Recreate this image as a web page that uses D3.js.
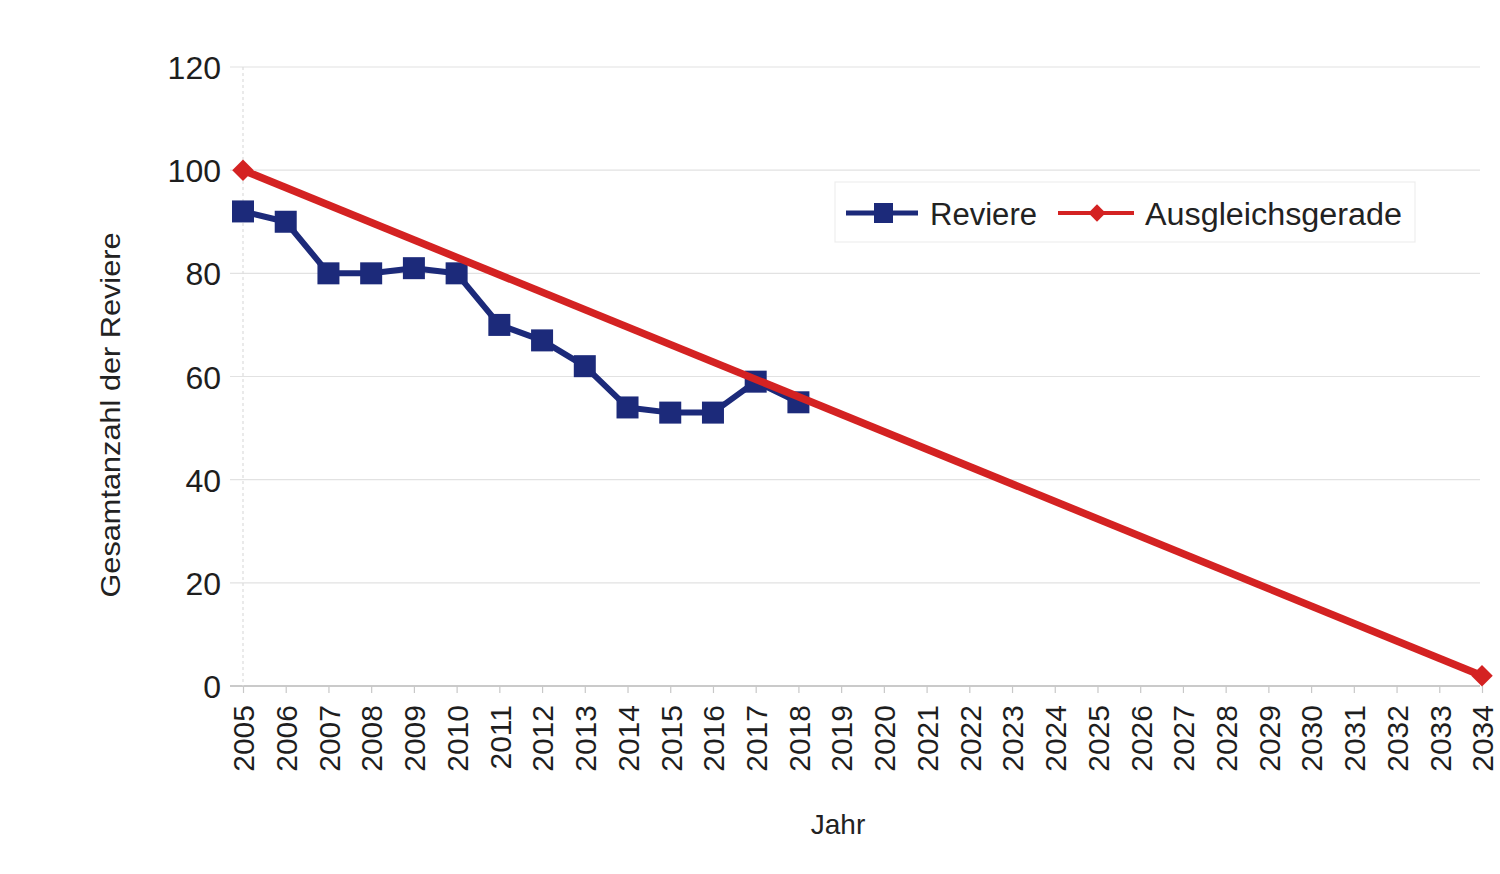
<!DOCTYPE html>
<html>
<head>
<meta charset="utf-8">
<script src="https://cdn.jsdelivr.net/npm/d3@7"></script>
<style>
  html, body { margin: 0; padding: 0; background: #ffffff; }
  svg { display: block; font-family: "Liberation Sans", Arial, sans-serif; }
</style>
</head>
<body>
<svg id="chart" width="1500" height="874"></svg>
<script>
// Jahre auf der x-Achse
const years = d3.range(2005, 2035);
// Gezählte Reviere pro Jahr
const reviereYears = [2005, 2006, 2007, 2008, 2009, 2010, 2011, 2012, 2013, 2014, 2015, 2016, 2017, 2018];
const reviereValues = [92, 90, 80, 80, 81, 80, 70, 67, 62, 54, 53, 53, 59, 55];
// Ausgleichsgerade (Anfangs- und Endpunkt)
const trendYears = [2005, 2034];
const trendValues = [100, 2];
// y-Achse
const yTicks = [0, 20, 40, 60, 80, 100, 120];

const svg = d3.select("#chart");

const x = d3.scalePoint().domain(years).range([243, 1482]);
const y = d3.scaleLinear().domain([0, 120]).range([686, 67]);

const navy = "#1c2a7a";
const red = "#d42222";

// horizontal grid lines
svg.append("g")
  .selectAll("line")
  .data(yTicks)
  .join("line")
  .attr("x1", 230).attr("x2", 1480)
  .attr("y1", d => y(d)).attr("y2", d => y(d))
  .attr("stroke", d => d === 0 ? "#b8b8b8" : "#e2e2e2")
  .attr("stroke-width", d => d === 0 ? 1.5 : 1.2);

// vertical axis line
svg.append("line")
  .attr("x1", x(2005)).attr("x2", x(2005))
  .attr("y1", y(120)).attr("y2", y(0))
  .attr("stroke", "#dcdcdc").attr("stroke-width", 1.2)
  .attr("stroke-dasharray", "3,3");

// y axis labels
const yAxis = d3.axisLeft(y).tickValues(yTicks).tickSize(0).tickPadding(0);
const gy = svg.append("g").attr("transform", "translate(221,0)").call(yAxis);
gy.select(".domain").remove();
gy.selectAll("text")
  .attr("font-size", 32)
  .attr("fill", "#1e1e1e")
  .attr("font-family", "Liberation Sans, Arial, sans-serif")
  .attr("dy", "0.36em");

// x axis: tick marks and rotated year labels
const xAxis = d3.axisBottom(x).tickSize(7).tickPadding(0);
const gx = svg.append("g").attr("transform", `translate(0,${y(0)})`).call(xAxis);
gx.select(".domain").remove();
gx.selectAll(".tick line").attr("stroke", "#c8c8c8").attr("stroke-width", 1.2);
gx.selectAll("text")
  .attr("font-size", 30)
  .attr("fill", "#1e1e1e")
  .attr("font-family", "Liberation Sans, Arial, sans-serif")
  .attr("text-anchor", "end")
  .attr("transform", "translate(0,19) rotate(-90)")
  .attr("x", 0)
  .attr("y", 0)
  .attr("dy", "0.36em");

// axis titles
svg.append("text")
  .attr("x", 838).attr("y", 834)
  .attr("text-anchor", "middle")
  .attr("font-size", 28)
  .attr("fill", "#222")
  .text("Jahr");

svg.append("text")
  .attr("transform", "translate(120,415) rotate(-90)")
  .attr("text-anchor", "middle")
  .attr("font-size", 28)
  .attr("textLength", 365)
  .attr("lengthAdjust", "spacingAndGlyphs")
  .attr("fill", "#222")
  .text("Gesamtanzahl der Reviere");

const line = d3.line().x(d => x(d.yr)).y(d => y(d.v));

// Reviere
const rev = reviereYears.map((yr, i) => ({ yr, v: reviereValues[i] }));
svg.append("path")
  .datum(rev)
  .attr("d", line)
  .attr("fill", "none")
  .attr("stroke", navy)
  .attr("stroke-width", 6)
  .attr("stroke-linejoin", "round");
svg.append("g")
  .selectAll("rect")
  .data(rev)
  .join("rect")
  .attr("x", d => x(d.yr) - 11)
  .attr("y", d => y(d.v) - 11)
  .attr("width", 22).attr("height", 22)
  .attr("fill", navy);

// Ausgleichsgerade
const trend = trendYears.map((yr, i) => ({ yr, v: trendValues[i] }));
svg.append("path")
  .datum(trend)
  .attr("d", line)
  .attr("fill", "none")
  .attr("stroke", red)
  .attr("stroke-width", 7.5);
const diamond = d3.symbol().type(d3.symbolSquare).size(230);
svg.append("g")
  .selectAll("path")
  .data(trend)
  .join("path")
  .attr("transform", d => `translate(${x(d.yr)},${y(d.v)}) rotate(45)`)
  .attr("d", diamond)
  .attr("fill", red);

// legend
const lg = svg.append("g");
lg.append("rect")
  .attr("x", 835).attr("y", 182).attr("width", 580).attr("height", 60)
  .attr("fill", "#ffffff").attr("stroke", "#eeeeee").attr("stroke-width", 1.2);
lg.append("line")
  .attr("x1", 846).attr("x2", 918).attr("y1", 213).attr("y2", 213)
  .attr("stroke", navy).attr("stroke-width", 5);
lg.append("rect")
  .attr("x", 874).attr("y", 203).attr("width", 19).attr("height", 20)
  .attr("fill", navy);
lg.append("text")
  .attr("x", 930).attr("y", 225)
  .attr("font-size", 31)
  .attr("textLength", 107)
  .attr("lengthAdjust", "spacingAndGlyphs")
  .attr("fill", "#222")
  .text("Reviere");
lg.append("line")
  .attr("x1", 1058).attr("x2", 1134).attr("y1", 213).attr("y2", 213)
  .attr("stroke", red).attr("stroke-width", 4);
lg.append("path")
  .attr("transform", "translate(1097,213) rotate(45)")
  .attr("d", d3.symbol().type(d3.symbolSquare).size(150))
  .attr("fill", red);
lg.append("text")
  .attr("x", 1145).attr("y", 225)
  .attr("font-size", 31)
  .attr("textLength", 257)
  .attr("lengthAdjust", "spacingAndGlyphs")
  .attr("fill", "#222")
  .text("Ausgleichsgerade");
</script>
</body>
</html>
